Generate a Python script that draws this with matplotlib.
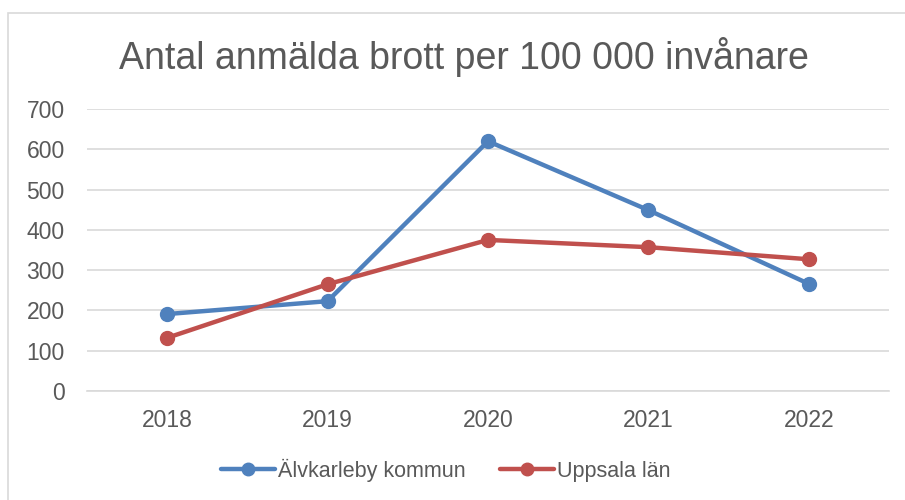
import matplotlib
matplotlib.use("Agg")
import matplotlib.pyplot as plt
from matplotlib.patches import Rectangle

years = ["2018", "2019", "2020", "2021", "2022"]
alvkarleby = [191, 223, 620, 449, 266]
uppsala = [132, 265, 375, 357, 327]
yticks = [0, 100, 200, 300, 400, 500, 600, 700]

plt.rcParams['font.family'] = ['Liberation Sans', 'DejaVu Sans']

fig = plt.figure(figsize=(9.05, 5.0), dpi=100)
fig.patches.append(Rectangle((8/905, -0.2), 2.0, 0.2 + 1 - 13/500, transform=fig.transFigure,
                             fill=False, edgecolor='#D9D9D9', linewidth=1.2))
ax = fig.add_axes([87/905, 1 - 391/500, (889 - 87)/905, (391 - 109)/500])

x = list(range(len(years)))
ax.plot(x, alvkarleby, color='#4F81BD', linewidth=3.2, marker='o', markersize=10,
        label='Älvkarleby kommun', solid_capstyle='round')
ax.plot(x, uppsala, color='#C0504D', linewidth=3.2, marker='o', markersize=10,
        label='Uppsala län', solid_capstyle='round')

ax.set_xlim(-0.5, len(years) - 0.5)
ax.set_ylim(0, 700)
ax.set_yticks(yticks)
ax.set_xticks(x)
ax.set_xticklabels(years)
ax.yaxis.grid(True, color='#D9D9D9', linewidth=1.2)
ax.set_axisbelow(True)
for s in ['top', 'right', 'left']:
    ax.spines[s].set_visible(False)
ax.spines['bottom'].set_color('#D9D9D9')
ax.spines['bottom'].set_linewidth(1.2)
ax.tick_params(axis='both', length=0, labelsize=16.5, labelcolor='#595959')
ax.tick_params(axis='y', pad=16)
ax.tick_params(axis='x', pad=13)

fig.text(464/905, 1 - 57/500, 'Antal anmälda brott per 100 000 invånare', ha='center', va='center',
         fontsize=27, color='#595959')

fig.legend(loc='center', bbox_to_anchor=(446/905, 1 - 470/500), ncol=2, frameon=False,
           fontsize=15.5, labelcolor='#595959', handlelength=2.5, handletextpad=0.15,
           columnspacing=1.6, markerscale=0.9)

fig.savefig('out.png', dpi=100)
